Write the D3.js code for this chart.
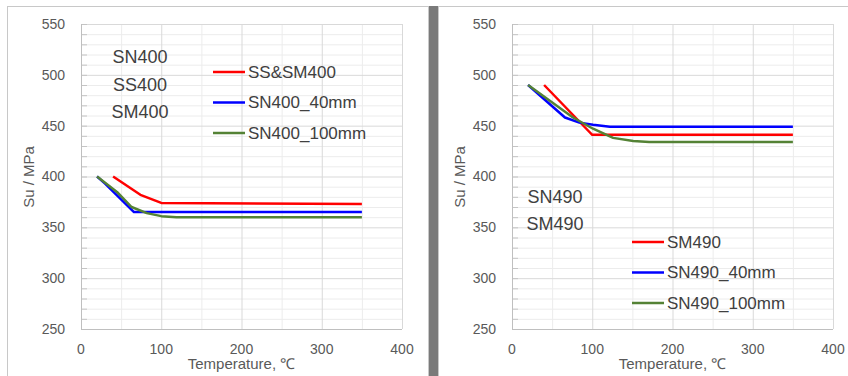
<!DOCTYPE html>
<html>
<head>
<meta charset="utf-8">
<script src="https://cdn.jsdelivr.net/npm/d3@7"></script>
<style>
  body { margin: 0; background: #fff; }
  svg { display: block; }
</style>
</head>
<body>
<svg id="chart" width="848" height="376"></svg>
<script>
// x ticks / y ticks shared by both panels
const xTicks = [0, 100, 200, 300, 400];
const yTicks = [250, 300, 350, 400, 450, 500, 550];

// left panel: 400 grade steels
const ss400Names = ["SS&SM400", "SN400_40mm", "SN400_100mm"];
const ss400Red = [[40, 400], [74, 382], [100, 374], [350, 373]];
const ss400Blue = [[20, 400], [30, 393], [66, 365], [350, 365]];
const ss400Green = [[20, 400], [46, 384], [63, 370], [82, 364], [100, 361], [119, 360], [350, 360]];
const ss400Labels = ["SN400", "SS400", "SM400"];

// right panel: 490 grade steels
const sm490Names = ["SM490", "SN490_40mm", "SN490_100mm"];
const sm490Red = [[40, 490], [95, 445], [100, 441], [350, 441]];
const sm490Blue = [[20, 490], [66, 458], [84, 453], [101, 451], [122, 449], [350, 449]];
const sm490Green = [[20, 490], [76, 458], [101, 447], [126, 438], [151, 435], [171, 434], [350, 434]];
const sm490Labels = ["SN490", "SM490"];

const colors = ["#ff0000", "#0000ff", "#548235"];
const tickFont = "'Liberation Sans Narrow', 'Arial Narrow', sans-serif";
const textFont = "'Liberation Sans', Arial, sans-serif";

const svg = d3.select("#chart");

// frames
svg.append("rect").attr("x", 7.5).attr("y", 6.5).attr("width", 421).attr("height", 380)
    .attr("fill", "#fff").attr("stroke", "#c8c8c8");
svg.append("rect").attr("x", 438.5).attr("y", 6.5).attr("width", 420).attr("height", 380)
    .attr("fill", "#fff").attr("stroke", "#c8c8c8");
svg.append("rect").attr("x", 429).attr("y", 6).attr("width", 9).attr("height", 370).attr("fill", "#7a7a7a");

function drawPanel(plotLeft, series, names, labels, labelPos, legendPos) {
    const plotTop = 24, plotBottom = 329, plotWidth = 321;

    const x = d3.scaleLinear().domain([0, 400]).range([plotLeft, plotLeft + plotWidth]);
    const y = d3.scaleLinear().domain([250, 550]).range([plotBottom, plotTop]);

    const g = svg.append("g");

    // minor grid
    g.append("g").selectAll("line")
        .data(d3.range(260, 551, 10).filter(v => v % 50 !== 0))
        .join("line")
        .attr("x1", x(0)).attr("x2", x(400))
        .attr("y1", d => y(d) + 0.5).attr("y2", d => y(d) + 0.5)
        .attr("stroke", "#ececec");
    g.append("g").selectAll("line")
        .data([50, 150, 250, 350])
        .join("line")
        .attr("x1", d => x(d) + 0.5).attr("x2", d => x(d) + 0.5)
        .attr("y1", y(550)).attr("y2", y(250))
        .attr("stroke", "#ececec");

    // major grid
    g.append("g").selectAll("line")
        .data(yTicks.slice(1))
        .join("line")
        .attr("x1", x(0)).attr("x2", x(400))
        .attr("y1", d => y(d) + 0.5).attr("y2", d => y(d) + 0.5)
        .attr("stroke", "#d9d9d9");
    g.append("g").selectAll("line")
        .data(xTicks.slice(1))
        .join("line")
        .attr("x1", d => x(d) + 0.5).attr("x2", d => x(d) + 0.5)
        .attr("y1", y(550)).attr("y2", y(250))
        .attr("stroke", "#d9d9d9");

    // minor tick marks on left axis
    g.append("g").selectAll("line")
        .data(d3.range(260, 551, 10))
        .join("line")
        .attr("x1", x(0)).attr("x2", x(0) + 6)
        .attr("y1", d => y(d) + 0.5).attr("y2", d => y(d) + 0.5)
        .attr("stroke", "#c4c4c4");

    // axes lines
    g.append("line").attr("x1", x(0) + 0.5).attr("x2", x(0) + 0.5)
        .attr("y1", y(550)).attr("y2", y(250)).attr("stroke", "#bfbfbf");
    g.append("line").attr("x1", x(0)).attr("x2", x(400))
        .attr("y1", y(250) + 0.5).attr("y2", y(250) + 0.5).attr("stroke", "#bfbfbf");

    // tick labels
    g.append("g").selectAll("text")
        .data(yTicks)
        .join("text")
        .attr("x", x(0) - 16).attr("y", d => y(d))
        .attr("dy", "0.35em")
        .attr("text-anchor", "end")
        .attr("font-family", tickFont).attr("font-size", 14).attr("fill", "#595959")
        .text(d => d);
    g.append("g").selectAll("text")
        .data(xTicks)
        .join("text")
        .attr("x", d => x(d)).attr("y", 349)
        .attr("dy", "0.35em")
        .attr("text-anchor", "middle")
        .attr("font-family", tickFont).attr("font-size", 14).attr("fill", "#595959")
        .text(d => d);

    // axis titles
    g.append("text")
        .attr("x", x(200)).attr("y", 364).attr("dy", "0.35em")
        .attr("text-anchor", "middle")
        .attr("font-family", tickFont).attr("font-size", 15).attr("fill", "#595959")
        .text("Temperature, ℃");
    g.append("text")
        .attr("transform", "translate(" + (plotLeft - 52) + "," + 177 + ") rotate(-90)")
        .attr("dy", "0.35em")
        .attr("text-anchor", "middle")
        .attr("font-family", tickFont).attr("font-size", 15).attr("fill", "#595959")
        .text("Su / MPa");

    // curves
    const line = d3.line().x(d => x(d[0])).y(d => y(d[1]));
    series.forEach(function (s, i) {
        g.append("path")
            .datum(s)
            .attr("fill", "none")
            .attr("stroke", colors[i])
            .attr("stroke-width", 2.5)
            .attr("stroke-linejoin", "round")
            .attr("d", line);
    });

    // grade labels
    labels.forEach(function (t, i) {
        g.append("text")
            .attr("x", labelPos.x).attr("y", labelPos.y + i * labelPos.step)
            .attr("dy", "0.35em")
            .attr("text-anchor", "middle")
            .attr("font-family", textFont).attr("font-size", 18).attr("fill", "#404040")
            .text(t);
    });

    // legend
    names.forEach(function (n, i) {
        const ly = legendPos.y + i * legendPos.step;
        g.append("line")
            .attr("x1", legendPos.x).attr("x2", legendPos.x + 32)
            .attr("y1", ly).attr("y2", ly)
            .attr("stroke", colors[i]).attr("stroke-width", 2.5);
        g.append("text")
            .attr("x", legendPos.x + 35).attr("y", ly)
            .attr("dy", "0.35em")
            .attr("font-family", textFont).attr("font-size", 17).attr("fill", "#404040")
            .text(n);
    });
}

drawPanel(81, [ss400Red, ss400Blue, ss400Green], ss400Names, ss400Labels,
    {x: 140, y: 57, step: 27.5}, {x: 213, y: 72, step: 30.5});
drawPanel(512, [sm490Red, sm490Blue, sm490Green], sm490Names, sm490Labels,
    {x: 555, y: 197, step: 26.5}, {x: 632, y: 242, step: 30.5});
</script>
</body>
</html>
